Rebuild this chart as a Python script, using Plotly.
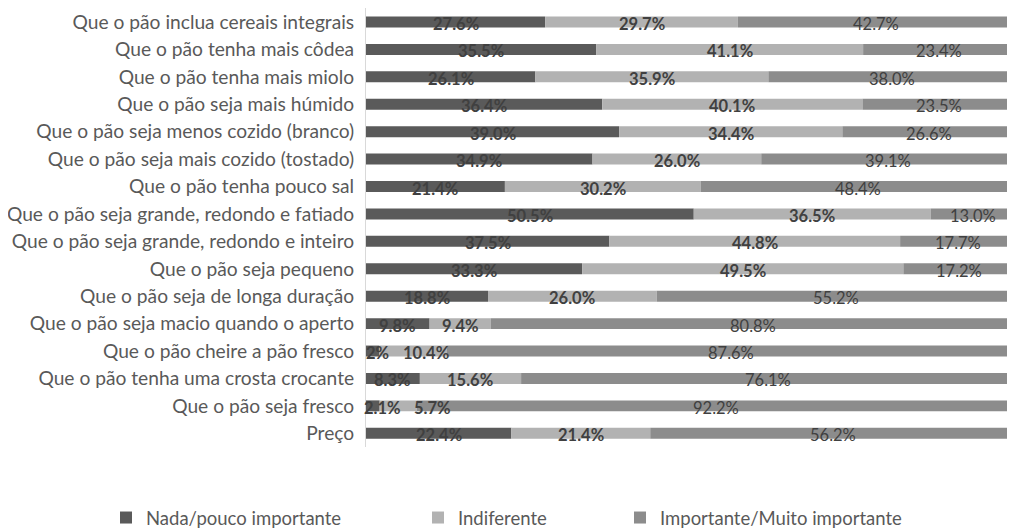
import plotly.graph_objects as go

categories = [
    "Que o pão inclua cereais integrais",
    "Que o pão tenha mais côdea",
    "Que o pão tenha mais miolo",
    "Que o pão seja mais húmido",
    "Que o pão seja menos cozido (branco)",
    "Que o pão seja mais cozido (tostado)",
    "Que o pão tenha pouco sal",
    "Que o pão seja grande, redondo e fatiado",
    "Que o pão seja grande, redondo e inteiro",
    "Que o pão seja pequeno",
    "Que o pão seja de longa duração",
    "Que o pão seja macio quando o aperto",
    "Que o pão cheire a pão fresco",
    "Que o pão tenha uma crosta crocante",
    "Que o pão seja fresco",
    "Preço",
]
nada = [27.6, 35.5, 26.1, 36.4, 39.0, 34.9, 21.4, 50.5, 37.5, 33.3, 18.8, 9.8, 2, 8.3, 2.1, 22.4]
indiferente = [29.7, 41.1, 35.9, 40.1, 34.4, 26.0, 30.2, 36.5, 44.8, 49.5, 26.0, 9.4, 10.4, 15.6, 5.7, 21.4]
importante = [42.7, 23.4, 38.0, 23.5, 26.6, 39.1, 48.4, 13.0, 17.7, 17.2, 55.2, 80.8, 87.6, 76.1, 92.2, 56.2]

series = [
    ("Nada/pouco importante", nada, "#5a5a5a", True, 98),
    ("Indiferente", indiferente, "#b2b2b2", True, 410),
    ("Importante/Muito importante", importante, "#8c8c8c", False, 612),
]

# labels that Excel pushed sideways so they don't collide
nudge = {(0, 12): 5, (0, 14): 10, (1, 12): 13, (1, 14): 34}

FONT = "Lato"
W, H = 1007, 521  # page body has an 8px margin
fig = go.Figure()
base = [0] * len(categories)
for i, (name, vals, color, bold, lx) in enumerate(series):
    leg = "legend" if i == 0 else f"legend{i + 1}"
    fig.add_trace(go.Bar(
        y=categories, x=vals, base=base, name=name, orientation="h",
        marker=dict(color=color, line=dict(width=0)), width=0.4,
        legend=leg, hoverinfo="skip",
    ))
    for j, (c, v, b) in enumerate(zip(categories, vals, base)):
        txt = f"{v}%"
        fig.add_annotation(
            x=b + v / 2, y=c, text=f"<b>{txt}</b>" if bold else txt,
            showarrow=False, yshift=-2, xshift=nudge.get((i, j), 0),
            font=dict(family=FONT, size=16.5, color="#404040"),
        )
    base = [b + v for b, v in zip(base, vals)]
    fig.update_layout(**{leg: dict(
        x=lx / W, y=11 / H, xref="container", yref="container",
        xanchor="left", yanchor="middle",
        orientation="h", font=dict(family=FONT, size=18.5, color="#595959"),
        bgcolor="rgba(0,0,0,0)", itemwidth=30,
    )})

fig.update_layout(
    barmode="overlay",
    width=W, height=H,
    margin=dict(l=358, r=0, t=0, b=82, autoexpand=False),
    plot_bgcolor="white", paper_bgcolor="white",
    showlegend=True,
)
fig.update_xaxes(range=[0, 100], visible=False, fixedrange=True)
fig.update_yaxes(
    autorange="reversed", showline=True, linecolor="#d9d9d9", linewidth=1,
    ticks="", showgrid=False, ticklabelstandoff=7,
    tickfont=dict(family=FONT, size=19.2, color="#595959"),
)
fig.write_html("out.html")
